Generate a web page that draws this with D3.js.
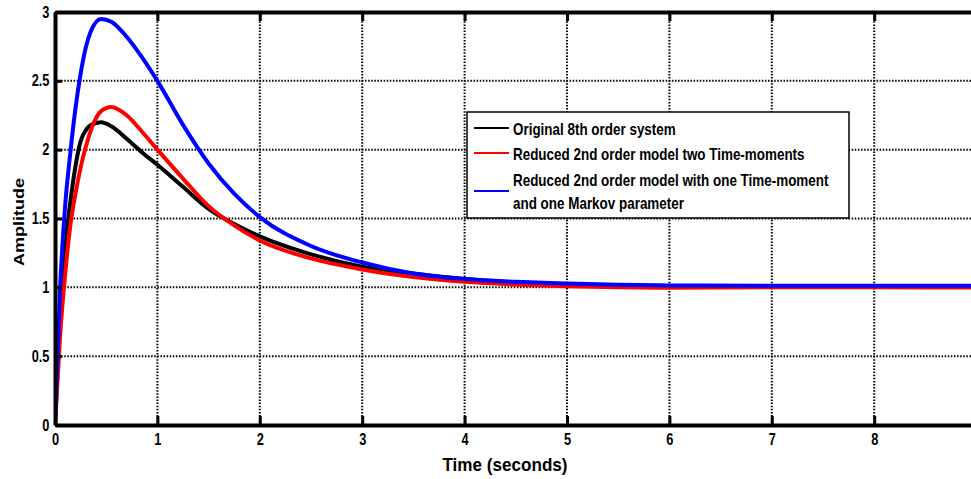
<!DOCTYPE html>
<html>
<head>
<meta charset="utf-8">
<script src="https://cdn.jsdelivr.net/npm/d3@7"></script>
<style>
  html, body { margin: 0; padding: 0; background: #fff; }
  svg { display: block; font-family: "Liberation Sans", Arial, sans-serif; font-weight: bold; }
</style>
</head>
<body>
<svg id="chart" width="971" height="479"></svg>
<script>
// step response samples
const timeSec = [0, 0.05, 0.1, 0.15, 0.2, 0.25, 0.3, 0.35, 0.45, 0.55, 0.7, 0.85, 1.0, 1.25, 1.5, 1.75, 2.0, 2.5, 3.0, 3.5, 4.0, 4.5, 5.0, 5.5, 6.0, 7.0, 8.0, 9.0];
const original8th = [0, 0.8, 1.3, 1.62, 1.88, 2.06, 2.14, 2.18, 2.2, 2.17, 2.08, 1.98, 1.89, 1.73, 1.57, 1.46, 1.37, 1.24, 1.15, 1.1, 1.06, 1.035, 1.02, 1.012, 1.008, 1.004, 1.002, 1.0];
const reducedTwoMoments = [0, 0.65, 1.1, 1.45, 1.68, 1.87, 2.02, 2.14, 2.28, 2.31, 2.25, 2.13, 2.0, 1.79, 1.59, 1.45, 1.34, 1.21, 1.13, 1.075, 1.04, 1.02, 1.008, 1.0, 0.997, 1.0, 1.0, 1.0];
const reducedMarkov = [0, 1.0, 1.6, 1.98, 2.3, 2.55, 2.74, 2.86, 2.95, 2.93, 2.82, 2.67, 2.5, 2.18, 1.9, 1.68, 1.51, 1.3, 1.18, 1.1, 1.06, 1.04, 1.027, 1.018, 1.014, 1.012, 1.012, 1.012];

const xTicks = [0, 1, 2, 3, 4, 5, 6, 7, 8];
const yTicks = [0, 0.5, 1, 1.5, 2, 2.5, 3];

const seriesNames = [
  ['Original 8th order system'],
  ['Reduced 2nd order model two Time-moments'],
  ['Reduced 2nd order model with one Time-moment', 'and one Markov parameter']
];
const seriesColors = ['#000000', '#ff0000', '#0000ff'];
const seriesValues = [original8th, reducedTwoMoments, reducedMarkov];

const svg = d3.select('#chart');
const plotLeft = 55, plotTop = 12, plotBottom = 425;
const x = d3.scaleLinear().domain([0, 9]).range([plotLeft, plotLeft + 9 * 102.4]);
const y = d3.scaleLinear().domain([0, 3]).range([plotBottom, plotTop]);
const squeeze = 0.8; // glyphs are narrow in the original

// clip
svg.append('defs').append('clipPath').attr('id', 'plot-clip')
  .append('rect')
  .attr('x', x(0)).attr('y', y(3))
  .attr('width', x(9) - x(0)).attr('height', y(0) - y(3));

// dotted grid
const grid = svg.append('g').attr('class', 'grid');
grid.selectAll('.gx').data(xTicks.slice(1)).enter().append('line')
  .attr('x1', d => x(d)).attr('x2', d => x(d))
  .attr('y1', y(3)).attr('y2', y(0))
  .attr('stroke', '#000').attr('stroke-width', 2).attr('stroke-dasharray', '1.5,1.6');
grid.selectAll('.gy').data(yTicks.slice(1, -1)).enter().append('line')
  .attr('x1', x(0)).attr('x2', x(9))
  .attr('y1', d => y(d)).attr('y2', d => y(d))
  .attr('stroke', '#000').attr('stroke-width', 2).attr('stroke-dasharray', '1.5,1.6');

// curves
const line = d3.line()
  .x((d, i) => x(timeSec[i]))
  .y(d => y(d))
  .curve(d3.curveMonotoneX);

svg.append('g').attr('clip-path', 'url(#plot-clip)')
  .selectAll('path').data(seriesValues).enter().append('path')
  .attr('d', d => line(d))
  .attr('fill', 'none')
  .attr('stroke', (d, i) => seriesColors[i])
  .attr('stroke-width', 4)
  .attr('stroke-linejoin', 'round');

// axes (ticks pointing inward)
function styleAxis(g) {
  g.select('.domain').attr('stroke', '#000').attr('stroke-width', 4);
  g.selectAll('.tick line').attr('stroke', '#000').attr('stroke-width', 3);
  g.selectAll('.tick text')
    .attr('fill', '#000')
    .style('font-size', '16px')
    .style('font-weight', 'bold');
}

svg.append('g')
  .attr('transform', `translate(0,${plotBottom})`)
  .call(d3.axisBottom(x).tickValues(xTicks).tickSize(-9).tickSizeOuter(0).tickPadding(9).tickFormat(d3.format('d')))
  .call(styleAxis)
  .call(g => g.selectAll('.tick text').attr('transform', `scale(${squeeze},1)`));

svg.append('g')
  .attr('transform', `translate(0,${plotTop})`)
  .call(d3.axisTop(x).tickValues(xTicks).tickSize(-9).tickSizeOuter(0).tickFormat(''))
  .call(styleAxis);

svg.append('g')
  .attr('transform', `translate(${plotLeft},0)`)
  .call(d3.axisLeft(y).tickValues(yTicks).tickSize(-7).tickSizeOuter(0).tickPadding(7).tickFormat(d3.format('')))
  .call(styleAxis)
  .call(g => g.selectAll('.tick text').attr('transform', `scale(${squeeze},1)`));

// axis titles
svg.append('text')
  .attr('transform', 'translate(505,471) scale(0.95,1)')
  .attr('text-anchor', 'middle')
  .style('font-size', '18px')
  .text('Time (seconds)');

svg.append('text')
  .attr('transform', `translate(24,222) scale(${squeeze},1) rotate(-90)`)
  .attr('text-anchor', 'middle')
  .style('font-size', '18px')
  .text('Amplitude');

// legend
const legend = svg.append('g').attr('transform', 'translate(467,112)');
legend.append('rect')
  .attr('width', 382).attr('height', 106)
  .attr('fill', '#fff').attr('stroke', '#000').attr('stroke-width', 1.5);

const rowTop = [23, 48, 74];
seriesNames.forEach((lines, i) => {
  const lineY = lines.length > 1 ? rowTop[i] + 5 : rowTop[i] - 7;
  legend.append('line')
    .attr('x1', 7).attr('x2', 42)
    .attr('y1', lineY).attr('y2', lineY)
    .attr('stroke', seriesColors[i]).attr('stroke-width', 2);
  lines.forEach((txt, j) => {
    legend.append('text')
      .attr('transform', `translate(46,${rowTop[i] + j * 23}) scale(0.84,1)`)
      .style('font-size', '16px')
      .text(txt);
  });
});
</script>
</body>
</html>
